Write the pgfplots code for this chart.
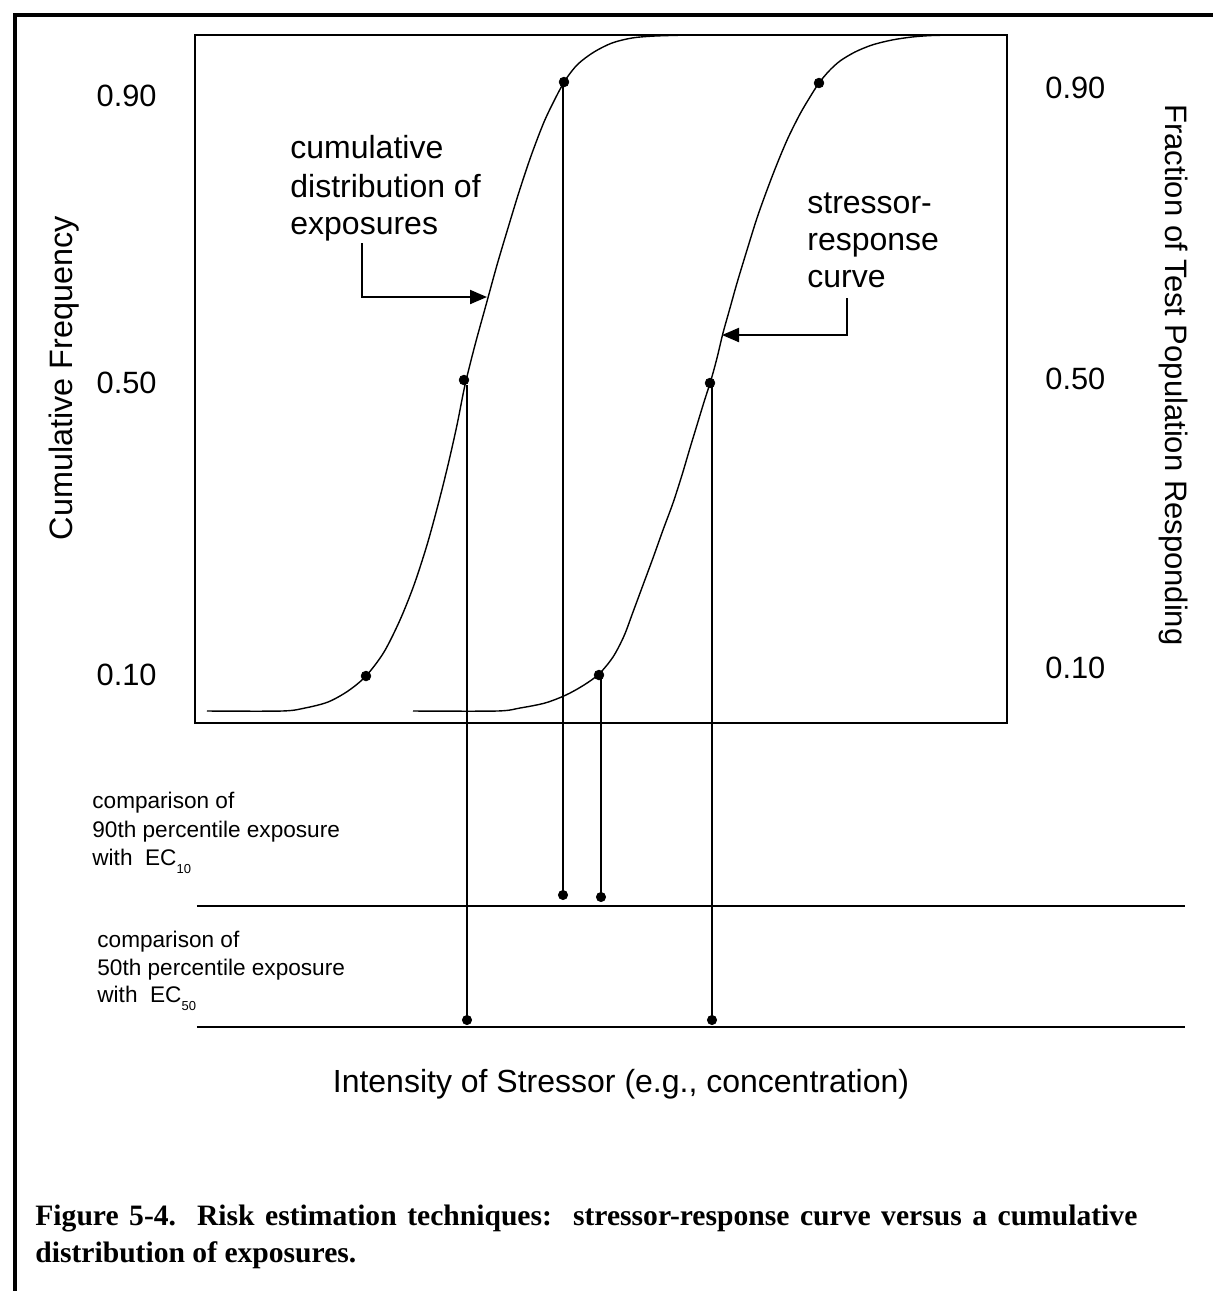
\documentclass[border=0pt]{standalone}
\usepackage{fontspec}
\setmainfont{Liberation Sans}
\newfontfamily\capfont{Liberation Serif}
\usepackage{pgfplots}
\pgfplotsset{compat=1.18}
\usetikzlibrary{arrows.meta}
\newcommand{\sub}[1]{\raisebox{-4pt}{\fontsize{6.5}{7}\selectfont #1}}
\begin{document}
\begin{tikzpicture}
\begin{axis}[
  width=406pt, height=344pt, scale only axis,
  xmin=195, xmax=1007, ymin=35, ymax=723, y dir=reverse,
  ticks=none, clip=false,
  axis line style={line width=1pt},
]
% cumulative distribution of exposures
\addplot[smooth, line width=0.7pt] coordinates {
(207,711) (282,711) (305,708) (328,702) (348,691) (366,676) (384,652)
(400,620) (414,585) (427,545) (438,505) (448,465) (457,425) (465,385)
(475,345) (486,305) (497,265) (508,228) (519,192) (531,156) (544,122)
(556,97) (566,79) (578,64) (594,52) (612,43) (632,38) (655,36) (690,35)
};
% stressor-response curve
\addplot[smooth, line width=0.7pt] coordinates {
(413,711) (497,711) (520,708) (545,703) (566,695) (584,685) (599,674)
(613,657) (624,636) (633,612) (643,585) (653,558) (663,530) (673,503)
(682,475) (690,448) (697,425) (704,402) (711,380) (717,358) (723,333)
(730,308) (737,283) (747,250) (757,218) (767,190) (777,164) (788,138)
(800,114) (810,97) (819,83) (829,71) (840,61) (855,52) (872,45)
(892,40) (912,37) (932,35.5) (960,35)
};
% vertical drop lines
\addplot[line width=1.2pt] coordinates {(563,82) (563,895)};
\addplot[line width=1.2pt] coordinates {(601,675) (601,897)};
\addplot[line width=1.2pt] coordinates {(467,385) (467,1020)};
\addplot[line width=1.2pt] coordinates {(712,383) (712,1020)};
% horizontal comparison lines
\addplot[line width=1.2pt] coordinates {(197,906) (1185,906)};
\addplot[line width=1.2pt] coordinates {(197,1027) (1185,1027)};
% points on curves
\addplot[only marks, mark=*, mark size=2.4pt] coordinates {
(366,676) (464,380) (564,82) (599,675) (710,383) (819,83)};
% points at comparison lines
\addplot[only marks, mark=*, mark size=2.3pt] coordinates {
(563,895) (601,897) (467,1020) (712,1020)};
% annotation arrows
\draw[line width=1pt, -{Triangle[length=8.5pt,width=7pt]}] (axis cs:362,243) |- (axis cs:487,297);
\draw[line width=1pt, -{Triangle[length=8.5pt,width=7pt]}] (axis cs:847,298) |- (axis cs:722,335);
% annotation texts
\begin{scope}[every node/.style={inner sep=0pt, font=\fontsize{16}{19}\selectfont}]
\node[anchor=base west] at (axis cs:290,158) {cumulative};
\node[anchor=base west] at (axis cs:290,197) {distribution of};
\node[anchor=base west] at (axis cs:290,234) {exposures};
\node[anchor=base west] at (axis cs:807,213) {stressor-};
\node[anchor=base west] at (axis cs:807,250) {response};
\node[anchor=base west] at (axis cs:807,287) {curve};
\end{scope}
% tick labels
\begin{scope}[every node/.style={inner sep=0pt, font=\fontsize{15.4}{18}\selectfont}]
\node[anchor=base east] at (axis cs:157,106) {0.90};
\node[anchor=base east] at (axis cs:157,393) {0.50};
\node[anchor=base east] at (axis cs:157,685) {0.10};
\node[anchor=base west] at (axis cs:1045,98) {0.90};
\node[anchor=base west] at (axis cs:1045,389) {0.50};
\node[anchor=base west] at (axis cs:1045,678) {0.10};
\end{scope}
% axis titles
\node[inner sep=0pt, rotate=90, font=\fontsize{16.2}{19}\selectfont] at (axis cs:64,378) {Cumulative Frequency};
\node[inner sep=0pt, rotate=-90, font=\fontsize{15.5}{19}\selectfont] at (axis cs:1174,375) {Fraction of Test Population Responding};
\node[inner sep=0pt, anchor=base, font=\fontsize{16}{19}\selectfont] at (axis cs:621,1092) {Intensity of Stressor (e.g., concentration)};
% comparison labels
\begin{scope}[every node/.style={inner sep=0pt, anchor=base west, font=\fontsize{11.3}{13}\selectfont}]
\node at (axis cs:92,808) {comparison of};
\node at (axis cs:92,837) {90th percentile exposure};
\node at (axis cs:92,865) {with\ \ EC\sub{10}};
\node at (axis cs:97,947) {comparison of};
\node at (axis cs:97,975) {50th percentile exposure};
\node at (axis cs:97,1002) {with\ \ EC\sub{50}};
\end{scope}
% caption
\begin{scope}[every node/.style={inner sep=0pt, anchor=base west, font=\capfont\bfseries\fontsize{14.8}{18}\selectfont}]
\node at (axis cs:35,1225) {\makebox[551pt][s]{Figure 5-4.\ \ Risk estimation techniques:\ \ stressor-response curve versus a cumulative}};
\node at (axis cs:35,1262) {distribution of exposures.};
\end{scope}
% outer frame
\draw[line width=2pt] (axis cs:15,15) rectangle (axis cs:1240,1320);
\coordinate (BL) at (axis cs:0,1291);
\coordinate (TR) at (axis cs:1212,0);
\end{axis}
\pgfresetboundingbox
\path[use as bounding box] (BL) rectangle (TR);
\end{tikzpicture}
\end{document}
